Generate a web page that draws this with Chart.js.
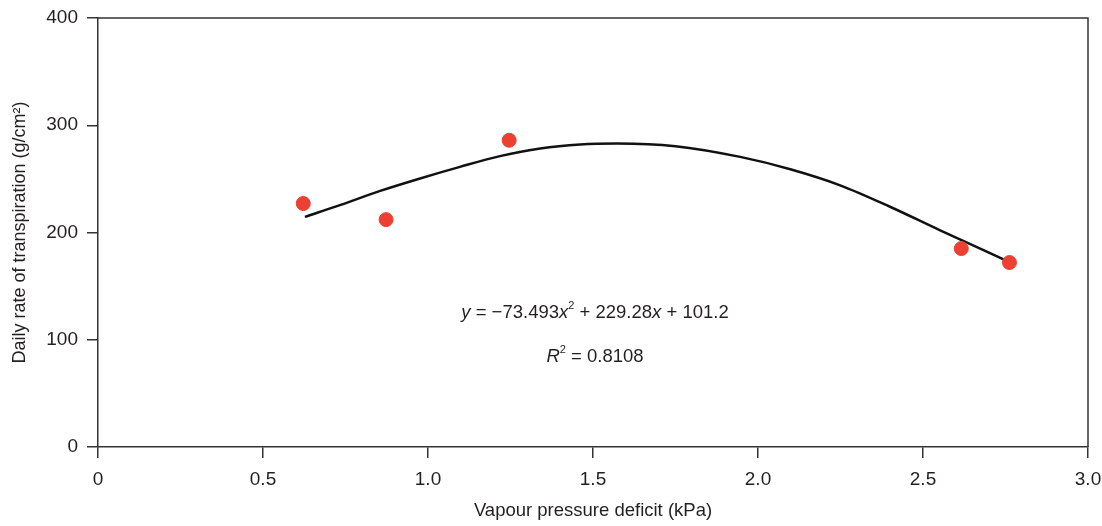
<!DOCTYPE html>
<html lang="en">
<head>
    <meta charset="UTF-8">
    <title>Daily rate of transpiration vs vapour pressure deficit</title>
    <script src="https://cdn.jsdelivr.net/npm/chart.js"></script>
    <style>
        html, body { margin: 0; padding: 0; background: #fff; }
        #wrap { width: 1102px; height: 526px; }
    </style>
</head>
<body>
<div id="wrap"><canvas id="grafico"></canvas></div>
<script>
// measured points (kPa, g/cm2)
const vpd = [0.622, 0.873, 1.246, 2.616, 2.762];
const transpiration = [227, 212, 286, 185, 172];

// fitted curve
const curveX = [0.627, 0.733, 0.855, 0.976, 1.097, 1.218, 1.34, 1.461, 1.572, 1.75, 1.946, 2.098, 2.249, 2.40, 2.552, 2.744];
const curveY = [214.6, 225.5, 238.8, 250.4, 261.2, 271.2, 278.4, 282.1, 283, 280.5, 270.5, 259, 244, 224, 202, 175];

const xTicks = [0, 0.5, 1.0, 1.5, 2.0, 2.5, 3.0];
const yTicks = [0, 100, 200, 300, 400];

const ink = '#231f20';
const fontFam = '"Liberation Sans", Arial, sans-serif';

// frame + equation text
const extras = {
    id: 'extras',
    afterDraw(chart) {
        const ctx = chart.ctx;
        const a = chart.chartArea;
        const sx = chart.scales.x, sy = chart.scales.y;
        ctx.save();
        ctx.strokeStyle = '#333';
        ctx.lineWidth = 1.5;
        ctx.beginPath();
        ctx.moveTo(a.left, a.top); ctx.lineTo(a.right, a.top); ctx.lineTo(a.right, a.bottom);
        ctx.stroke();

        function writeLine(parts, cx, cy) {
            let total = 0;
            parts.forEach(p => {
                ctx.font = (p.it ? 'italic ' : '') + (p.sup ? '11px ' : '18.5px ') + fontFam;
                p.w = ctx.measureText(p.t).width;
                total += p.w;
            });
            let x = cx - total / 2;
            ctx.fillStyle = ink;
            ctx.textBaseline = 'middle';
            ctx.textAlign = 'left';
            parts.forEach(p => {
                ctx.font = (p.it ? 'italic ' : '') + (p.sup ? '11px ' : '18.5px ') + fontFam;
                ctx.fillText(p.t, x, p.sup ? cy - 7 : cy);
                x += p.w;
            });
        }
        writeLine([
            {t: 'y', it: true}, {t: ' = \u221273.493'}, {t: 'x', it: true}, {t: '2', sup: true},
            {t: ' + 229.28'}, {t: 'x', it: true}, {t: ' + 101.2'}
        ], sx.getPixelForValue(1.506), sy.getPixelForValue(125));
        writeLine([
            {t: 'R', it: true}, {t: '2', sup: true}, {t: ' = 0.8108'}
        ], sx.getPixelForValue(1.506), sy.getPixelForValue(84));
        ctx.restore();
    }
};

const ctx = document.getElementById('grafico').getContext('2d');
const chart = new Chart(ctx, {
    type: 'scatter',
    data: {
        datasets: [
            {
                label: 'Fit',
                data: curveX.map((x, i) => ({x: x, y: curveY[i]})),
                showLine: true,
                borderColor: '#111',
                borderWidth: 2.5,
                pointRadius: 0,
                cubicInterpolationMode: 'monotone',
                order: 2
            },
            {
                label: 'Measured',
                data: vpd.map((x, i) => ({x: x, y: transpiration[i]})),
                backgroundColor: '#ec4033',
                borderColor: '#ec4033',
                pointRadius: 7,
                order: 1
            }
        ]
    },
    options: {
        responsive: true,
        maintainAspectRatio: false,
        animation: false,
        layout: { padding: { left: 0, right: 14, top: 18, bottom: 0 } },
        plugins: {
            legend: { display: false },
            tooltip: { enabled: false }
        },
        scales: {
            x: {
                type: 'linear',
                min: 0, max: 3,
                afterBuildTicks: s => { s.ticks = xTicks.map(v => ({value: v})); },
                afterFit: s => { s.height = 79; s.paddingLeft = 0; s.paddingRight = 0; },
                border: { color: '#333', width: 1.5 },
                grid: { drawOnChartArea: false, drawTicks: true, tickLength: 11, color: '#333', lineWidth: 1.5 },
                ticks: {
                    color: ink, padding: 10,
                    font: { family: fontFam, size: 19 },
                    callback: v => v === 0 ? '0' : v.toFixed(1)
                },
                title: {
                    display: true, text: 'Vapour pressure deficit (kPa)', color: ink,
                    font: { family: fontFam, size: 18.5 }, padding: { top: 14 }
                }
            },
            y: {
                type: 'linear',
                min: 0, max: 400,
                afterBuildTicks: s => { s.ticks = yTicks.map(v => ({value: v})); },
                afterFit: s => { s.width = 98; s.paddingTop = 0; s.paddingBottom = 0; },
                border: { color: '#333', width: 1.5 },
                grid: { drawOnChartArea: false, drawTicks: true, tickLength: 11, color: '#333', lineWidth: 1.5 },
                ticks: {
                    color: ink, padding: 9,
                    font: { family: fontFam, size: 19 }
                },
                title: {
                    display: true, text: 'Daily rate of transpiration (g/cm\u00b2)', color: ink,
                    font: { family: fontFam, size: 18 }, padding: { top: 9, bottom: 0 }
                }
            }
        }
    },
    plugins: [extras]
});
</script>
</body>
</html>
